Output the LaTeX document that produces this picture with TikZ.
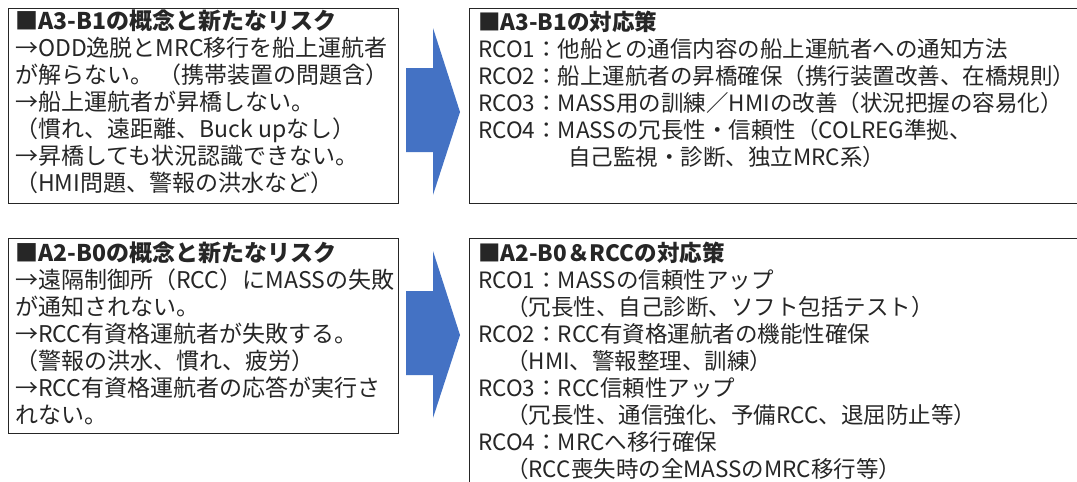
\documentclass[tikz,border=0pt]{standalone}
\usepackage{fontspec}
\setmainfont{Noto Sans CJK JP}
\definecolor{arrowblue}{HTML}{4472C4}
\definecolor{inkgray}{HTML}{262626}
\begin{document}
\begin{tikzpicture}[x=1pt,y=-1pt,
  box/.style={draw=inkgray, line width=1.2pt, anchor=north west, inner sep=0pt},
  txt/.style={anchor=north west, inner sep=0pt, align=left, text=inkgray,
    font=\fontsize{22.5}{27}\selectfont},
  txtl/.style={txt, font=\fontsize{23}{27}\selectfont},
  bigarrow/.style={fill=arrowblue, draw=none}]
\useasboundingbox (0,0) rectangle (1077,482);
\clip (0,0) rectangle (1077,482);
\fill[white] (0,0) rectangle (1077,482);
% boxes
\node[box, minimum width=390pt, minimum height=195pt] (b1) at (8,8) {};
\node[box, minimum width=390pt, minimum height=195pt] (b2) at (8,238) {};
\node[box, minimum width=630pt, minimum height=195pt] (b3) at (469,8) {};
\node[box, minimum width=630pt, minimum height=270pt] (b4) at (469,238) {};
% arrows
\fill[bigarrow] (406,68) -- (433,68) -- (433,28) -- (460,112) -- (433,195) -- (433,152) -- (406,152) -- cycle;
\fill[bigarrow] (406,291) -- (433,291) -- (433,251) -- (460,335) -- (433,418) -- (433,375) -- (406,375) -- cycle;
% texts
\node[txtl] (t1) at (15,10) {{\bfseries ■A3-B1の概念と新たなリスク}\\
→ODD逸脱とMRC移行を船上運航者\\
が解らない。 （携帯装置の問題含）\\
→船上運航者が昇橋しない。\\
（慣れ、遠距離、Buck upなし）\\
→昇橋しても状況認識できない。\\
（HMI問題、警報の洪水など）};
\node[txtl] (t2) at (15,242) {{\bfseries ■A2-B0の概念と新たなリスク}\\
→遠隔制御所（RCC）にMASSの失敗\\
が通知されない。\\
→RCC有資格運航者が失敗する。\\
（警報の洪水、慣れ、疲労）\\
→RCC有資格運航者の応答が実行さ\\
れない。};
\node[txt] (t3) at (478,11) {{\bfseries ■A3-B1の対応策}\\
RCO1：他船との通信内容の船上運航者への通知方法\\
RCO2：船上運航者の昇橋確保（携行装置改善、在橋規則）\\
RCO3：MASS用の訓練／HMIの改善（状況把握の容易化）\\
RCO4：MASSの冗長性・信頼性（COLREG準拠、\\
\hspace*{90pt}自己監視・診断、独立MRC系）};
\node[txt] (t4) at (478,242) {{\bfseries ■A2-B0＆RCCの対応策}\\
RCO1：MASSの信頼性アップ\\
\hspace*{28pt}（冗長性、自己診断、ソフト包括テスト）\\
RCO2：RCC有資格運航者の機能性確保\\
\hspace*{28pt}（HMI、警報整理、訓練）\\
RCO3：RCC信頼性アップ\\
\hspace*{28pt}（冗長性、通信強化、予備RCC、退屈防止等）\\
RCO4：MRCへ移行確保\\
\hspace*{28pt}（RCC喪失時の全MASSのMRC移行等）};
\end{tikzpicture}
\end{document}
